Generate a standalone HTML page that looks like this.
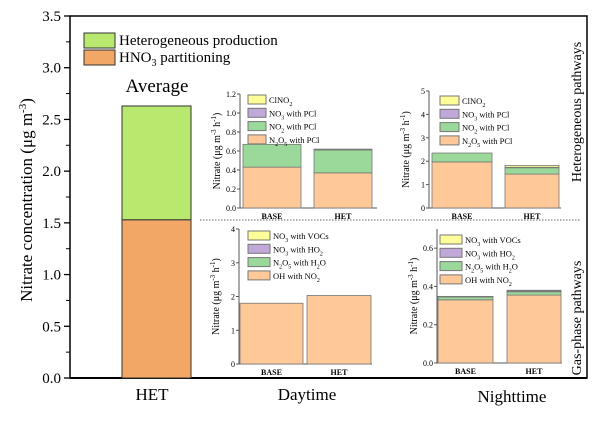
<!DOCTYPE html>
<html><head><meta charset="utf-8"><style>
body{margin:0;background:#fff}
svg,svg text{font-family:"Liberation Serif","DejaVu Serif","Times New Roman",serif}
</style></head><body>
<svg id="c" width="600" height="416" viewBox="0 0 600 416" xmlns="http://www.w3.org/2000/svg" font-family="'Liberation Serif', 'DejaVu Serif', serif"></svg>
<script>
// main chart data
const mainCategories=["HET"];
const mainSeriesNames=["HNO3 partitioning","Heterogeneous production"];
const mainPartitioning=[1.53];
const mainHetProd=[1.10];
const mainTicks=[0,0.5,1,1.5,2,2.5,3,3.5];
// inset data
const insetCategories=["BASE","HET"];
const dayHetN2O5=[0.43,0.37], dayHetNO2=[0.24,0.24], dayHetNO3=[0,0.005], dayHetClNO2=[0,0.005];
const dayHetTicks=[0,0.2,0.4,0.6,0.8,1.0,1.2];
const nightHetN2O5=[1.97,1.45], nightHetNO2=[0.38,0.27], nightHetNO3=[0,0.02], nightHetClNO2=[0,0.08];
const nightHetTicks=[0,1,2,3,4,5];
const dayGasOH=[1.8,2.03], dayGasN2O5=[0,0], dayGasHO2=[0,0], dayGasVOC=[0,0];
const dayGasTicks=[0,1,2,3,4];
const nightGasOH=[0.33,0.355], nightGasN2O5=[0.015,0.017], nightGasHO2=[0.002,0.005], nightGasVOC=[0.001,0.003];
const nightGasTicks=[0,0.2,0.4,0.6];

const S=document.getElementById('c');const NS="http://www.w3.org/2000/svg";
const FF="Liberation Serif, DejaVu Serif, serif";
function el(t,a,txt){const e=document.createElementNS(NS,t);for(const k in a)e.setAttribute(k,a[k]);if(t==='text')e.setAttribute('font-family',FF);if(txt!==undefined)e.innerHTML=txt;S.appendChild(e);return e;}

// main axis
const my=v=>378-v*(362/3.5);
let f=el('rect',{x:70,y:16,width:517,height:362,fill:'none',stroke:'#000','stroke-width':1.5});

mainTicks.forEach((t,i)=>{
 const y=my(t);
 let l=el('line',{x1:64,x2:70,y1:y,y2:y,stroke:'#000','stroke-width':1.3});
 
 if(i<mainTicks.length-1){let m=el('line',{x1:66,x2:70,y1:my(t+0.25),y2:my(t+0.25),stroke:'#000'});}
 let tx=el('text',{x:61,y:y+5,'font-size':15,'text-anchor':'end'},t.toFixed(1));
 
});
let ax=el('line',{x1:70,x2:587,y1:378,y2:378,stroke:'#000','stroke-width':2});
mainCategories.forEach((c,i)=>{
 let b1=el('rect',{x:122,y:my(mainPartitioning[i]),width:69,height:my(0)-my(mainPartitioning[i]),fill:'#F2A766',stroke:'#333'});
 
 const top=mainPartitioning[i]+mainHetProd[i];
 let b2=el('rect',{x:122,y:my(top),width:69,height:my(mainPartitioning[i])-my(top),fill:'#B8E86E',stroke:'#333'});
 
 let t=el('text',{x:152,y:400,'font-size':17,'text-anchor':'middle'},c);
});
let yt=el('text',{transform:'translate(32,200) rotate(-90)','font-size':17,'text-anchor':'middle'},'Nitrate concentration (μg m<tspan dy="-6" font-size="11">-3</tspan><tspan dy="6">)</tspan>');

[['#B8E86E','Heterogeneous production',33],['#F2A766','HNO<tspan dy="4" font-size="10">3</tspan><tspan dy="-4"> partitioning</tspan>',50]].forEach((d,i)=>{
 let r=el('rect',{x:84,y:d[2],width:31,height:15,fill:d[0],stroke:'#333'});
 let t=el('text',{x:119,y:d[2]+12,'font-size':15},d[1]);
});
let av=el('text',{x:157,y:92,'font-size':19,'text-anchor':'middle'},'Average');
let dl=el('line',{x1:200,x2:580,y1:220,y2:220,stroke:'#666','stroke-dasharray':'1.5,1.5'});
[['Daytime',307,400],['Nighttime',512,402]].forEach(d=>{let t=el('text',{x:d[1],y:d[2],'font-size':17,'text-anchor':'middle'},d[0]);});
[['Heterogeneous pathways',112],['Gas-phase pathways',318]].forEach(d=>{let t=el('text',{transform:`translate(581,${d[1]}) rotate(-90)`,'font-size':14,'text-anchor':'middle'},d[0]);});

const colors=['#FEC899','#9AD99A','#C0A8D8','#FFFF99'];
function inset(o){
 const {x0,x1,y0,yTop,vmax,ticks,dec,series,labels,bars,leg}=o;
 const sy=v=>y0-v*(y0-yTop)/vmax;
 let a=el('path',{d:`M${x0},${yTop}V${y0}H${x1}`,fill:'none',stroke:'#555'});
 ticks.forEach(t=>{let l=el('line',{x1:x0-3,x2:x0,y1:sy(t),y2:sy(t),stroke:'#555'});
  let tx=el('text',{x:x0-4,y:sy(t)+3,'font-size':8,'text-anchor':'end'},t.toFixed(dec));});
 insetCategories.forEach((c,i)=>{
  let cum=0;
  series.forEach((s,k)=>{const v=s[i];if(v<=0)return;
   let r=el('rect',{x:bars[i][0],y:sy(cum+v),width:bars[i][1]-bars[i][0],height:sy(cum)-sy(cum+v),fill:colors[k],stroke:'#777','stroke-width':0.8});
   cum+=v;});
  let t=el('text',{x:(bars[i][0]+bars[i][1])/2,y:y0+11,'font-size':8,'font-weight':'bold','text-anchor':'middle'},c);
 });
 let ty=el('text',{transform:`translate(${x0-20},${(y0+yTop)/2}) rotate(-90)`,'font-size':10,'text-anchor':'middle'},'Nitrate (μg m<tspan dy="-4" font-size="7">-3</tspan><tspan dy="4"> h</tspan><tspan dy="-4" font-size="7">-1</tspan><tspan dy="4">)</tspan>');
 
 labels.forEach((lb,k)=>{const y=leg[1]+k*13.3;const idx=3-k;
  let r=el('rect',{x:leg[0],y:y,width:leg[2],height:9,fill:colors[idx],stroke:'#777'});
  let t=el('text',{x:leg[0]+leg[2]+3,y:y+8,'font-size':8.5},lb);});
}
const s3=x=>'<tspan dy="3" font-size="6">'+x+'</tspan><tspan dy="-3">';
const hetLabels=['ClNO'+s3('2')+'</tspan>','NO'+s3('3')+' with PCl</tspan>','NO'+s3('2')+' with PCl</tspan>','N'+s3('2')+'O</tspan>'+s3('5')+' with PCl</tspan>'];
const gasLabels=['NO'+s3('3')+' with VOCs</tspan>','NO'+s3('3')+' with HO</tspan><tspan dy="3" font-size="6">2</tspan>','N'+s3('2')+'O</tspan>'+s3('5')+' with H</tspan>'+s3('2')+'O</tspan>','OH with NO<tspan dy="3" font-size="6">2</tspan>'];
inset({x0:240,x1:377,y0:208,yTop:94,vmax:1.2,ticks:dayHetTicks,dec:1,series:[dayHetN2O5,dayHetNO2,dayHetNO3,dayHetClNO2],labels:hetLabels,bars:[[243,301],[314,372]],leg:[248,95,18]});
inset({x0:429,x1:561,y0:208,yTop:91,vmax:5,ticks:nightHetTicks,dec:0,series:[nightHetN2O5,nightHetNO2,nightHetNO3,nightHetClNO2],labels:hetLabels,bars:[[432,492],[505,559]],leg:[440,96,19]});
inset({x0:239,x1:372,y0:364,yTop:229,vmax:4,ticks:dayGasTicks,dec:0,series:[dayGasOH,dayGasN2O5,dayGasHO2,dayGasVOC],labels:gasLabels,bars:[[240,303],[307,371]],leg:[248,231,22]});
inset({x0:437,x1:562,y0:363,yTop:229,vmax:0.7,ticks:nightGasTicks,dec:1,series:[nightGasOH,nightGasN2O5,nightGasHO2,nightGasVOC],labels:gasLabels,bars:[[438,493],[507,561]],leg:[440,235,22]});
</script>
</body></html>
